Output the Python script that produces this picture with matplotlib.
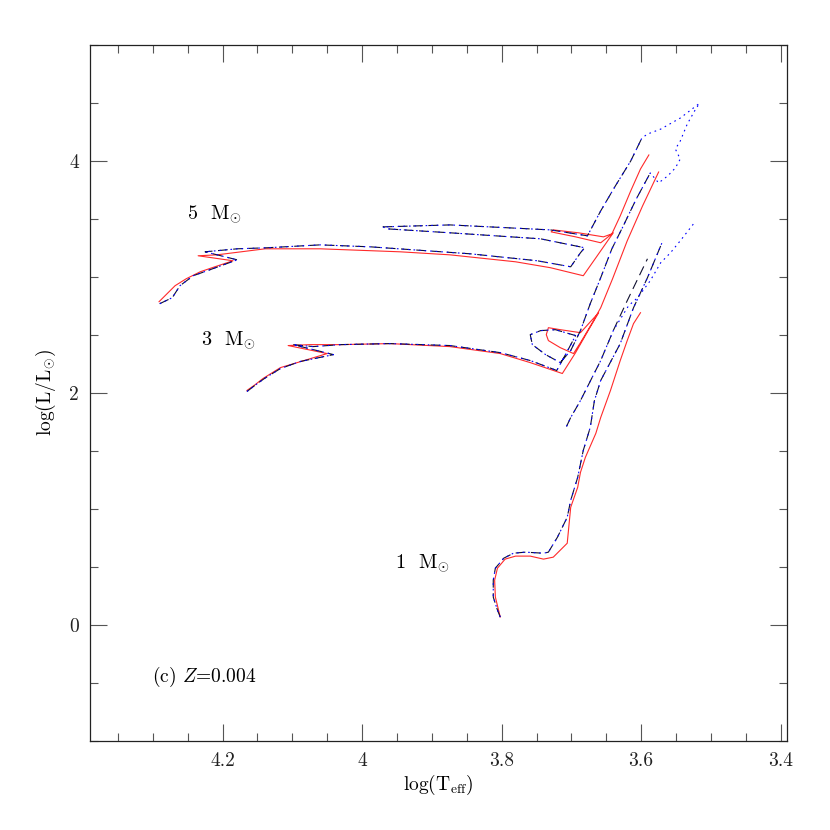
import matplotlib
matplotlib.use('Agg')
import matplotlib.pyplot as plt
from matplotlib.ticker import MultipleLocator, FixedLocator, FixedFormatter

plt.rcParams['font.family'] = 'serif'
plt.rcParams['font.serif'] = ['cmr10', 'DejaVu Serif']
plt.rcParams['mathtext.fontset'] = 'cm'
plt.rcParams['axes.formatter.use_mathtext'] = True
plt.rcParams['axes.unicode_minus'] = False
plt.rcParams['lines.scale_dashes'] = False

# ---- 5 Msun ----
t5_red = [4.291, 4.281, 4.268, 4.252, 4.232, 4.211, 4.185, 4.235, 4.208, 4.139, 4.060,
          3.945, 3.874, 3.780, 3.730, 3.683, 3.664, 3.648, 3.640, 3.658, 3.694, 3.729,
          3.726, 3.690, 3.654, 3.642, 3.630, 3.615, 3.601, 3.589]
l5_red = [2.787, 2.847, 2.925, 2.985, 3.045, 3.088, 3.140, 3.183, 3.191, 3.243, 3.243,
          3.217, 3.191, 3.131, 3.080, 3.011, 3.174, 3.312, 3.381, 3.295, 3.346, 3.389,
          3.406, 3.381, 3.346, 3.372, 3.527, 3.742, 3.931, 4.052]

t5_dash = [4.290, 4.272, 4.261, 4.242, 4.222, 4.179, 4.225, 4.179, 4.136, 4.060, 3.988,
           3.845, 3.749, 3.701, 3.687, 3.681, 3.744, 3.874, 3.964, 3.970, 3.874, 3.730,
           3.677, 3.658, 3.637, 3.615, 3.599]
l5_dash = [2.770, 2.822, 2.925, 3.011, 3.054, 3.148, 3.217, 3.243, 3.252, 3.277, 3.260,
           3.200, 3.140, 3.088, 3.209, 3.252, 3.329, 3.381, 3.415, 3.432, 3.449, 3.406,
           3.355, 3.570, 3.785, 4.000, 4.198]

t5_dot = t5_dash + [3.591, 3.572, 3.544, 3.518]
l5_dot = l5_dash + [4.232, 4.275, 4.370, 4.490]

# ---- 3 Msun ----
t3_red = [4.165, 4.153, 4.142, 4.117, 4.093, 4.050, 4.106, 4.074, 4.031, 3.960, 3.874,
          3.802, 3.759, 3.713, 3.694, 3.676, 3.661, 3.687, 3.716, 3.733, 3.736, 3.733,
          3.716, 3.697, 3.687, 3.670, 3.658, 3.641, 3.620, 3.598, 3.575]
l3_red = [2.022, 2.073, 2.125, 2.219, 2.262, 2.340, 2.409, 2.417, 2.417, 2.426, 2.400,
          2.340, 2.262, 2.168, 2.348, 2.538, 2.692, 2.520, 2.546, 2.563, 2.503, 2.452,
          2.391, 2.340, 2.434, 2.606, 2.735, 2.985, 3.312, 3.613, 3.905]

t3_dash = [4.165, 4.152, 4.140, 4.117, 4.089, 4.041, 4.099, 4.070, 4.031, 3.960, 3.874,
           3.802, 3.759, 3.721, 3.707, 3.694, 3.723, 3.744, 3.759, 3.756, 3.737, 3.716,
           3.701, 3.687, 3.673, 3.658, 3.642, 3.627, 3.607, 3.587]
l3_dash = [2.013, 2.073, 2.125, 2.211, 2.271, 2.331, 2.417, 2.400, 2.417, 2.426, 2.409,
           2.348, 2.280, 2.194, 2.348, 2.495, 2.546, 2.538, 2.503, 2.417, 2.331, 2.262,
           2.366, 2.538, 2.770, 2.994, 3.243, 3.424, 3.673, 3.897]

t3_dot = t3_dash + [3.575, 3.562, 3.551, 3.544, 3.551, 3.544, 3.534, 3.522, 3.516]
l3_dot = l3_dash + [3.811, 3.871, 3.940, 4.017, 4.103, 4.172, 4.318, 4.447, 4.500]

# ---- 1 Msun ----
t1_red = [3.802, 3.809, 3.810, 3.806, 3.795, 3.780, 3.759, 3.740, 3.726, 3.706, 3.701,
          3.691, 3.687, 3.680, 3.665, 3.658, 3.644, 3.630, 3.620, 3.611, 3.601]
l1_red = [0.069, 0.241, 0.387, 0.490, 0.568, 0.594, 0.594, 0.568, 0.585, 0.705, 1.015,
          1.187, 1.316, 1.445, 1.652, 1.789, 2.022, 2.280, 2.452, 2.598, 2.692]

t1_rgb = [3.802, 3.806, 3.812, 3.812, 3.809, 3.797, 3.783, 3.766, 3.740, 3.733, 3.720,
          3.706, 3.701, 3.691, 3.683, 3.673, 3.667, 3.658, 3.630, 3.611, 3.591, 3.569]
l1_rgb = [0.069, 0.129, 0.241, 0.387, 0.490, 0.576, 0.619, 0.628, 0.619, 0.628, 0.757,
          0.929, 1.075, 1.273, 1.505, 1.703, 1.935, 2.108, 2.426, 2.735, 2.994, 3.312]

t1_agb_dash = [3.707, 3.701, 3.687, 3.658, 3.640, 3.620, 3.591]
l1_agb_dash = [1.712, 1.789, 1.935, 2.280, 2.538, 2.796, 3.157]

t1_agb_dot = [3.707, 3.701, 3.687, 3.658, 3.640, 3.618, 3.605, 3.587, 3.572, 3.558,
              3.544, 3.525]
l1_agb_dot = [1.712, 1.789, 1.935, 2.280, 2.538, 2.753, 2.822, 2.968, 3.123, 3.209,
              3.312, 3.458]

red = '#ff2a2a'
blue = '#0000ff'

fig = plt.figure(figsize=(8.3, 8.3), dpi=100)
ax = fig.add_axes([0.1084, 0.1072, 0.8398, 0.8386])

def red_line(t, l):
    ax.plot(t, l, color=red, lw=0.8)

def dash_line(t, l):
    ax.plot(t, l, color='#101030', lw=0.8, dashes=(7, 4))

def dot_line(t, l):
    ax.plot(t, l, color=blue, lw=0.8, dashes=(1.2, 2.8))

for t, l in [(t5_red, l5_red), (t3_red, l3_red), (t1_red, l1_red)]:
    red_line(t, l)
for t, l in [(t5_dash, l5_dash), (t3_dash, l3_dash), (t1_rgb, l1_rgb), (t1_agb_dash, l1_agb_dash)]:
    dash_line(t, l)
for t, l in [(t5_dot, l5_dot), (t3_dot, l3_dot), (t1_rgb, l1_rgb), (t1_agb_dot, l1_agb_dot)]:
    dot_line(t, l)

ax.text(4.211, 3.544, r'5  M$_{\odot}$', fontsize=14.5, ha='center', va='center')
ax.text(4.192, 2.452, r'3  M$_{\odot}$', fontsize=14.5, ha='center', va='center')
ax.text(3.914, 0.533, r'1  M$_{\odot}$', fontsize=14.5, ha='center', va='center')
ax.text(4.301, -0.447, r'(c) $Z$=0.004', fontsize=14, ha='left', va='center')

ax.set_xlim(4.39, 3.391)
ax.set_ylim(-1, 5)

xt = [4.2, 4.0, 3.8, 3.6, 3.4]
ax.xaxis.set_major_locator(FixedLocator(xt))
ax.xaxis.set_major_formatter(FixedFormatter(['4.2', '4', '3.8', '3.6', '3.4']))
ax.xaxis.set_minor_locator(MultipleLocator(0.05))
ax.yaxis.set_major_locator(FixedLocator([0, 2, 4]))
ax.yaxis.set_major_formatter(FixedFormatter(['0', '2', '4']))
ax.yaxis.set_minor_locator(MultipleLocator(0.5))

ax.tick_params(which='both', direction='in', top=True, right=True, color='#555555',
               labelsize=14, pad=8, labelcolor='#222222')
ax.tick_params(which='major', length=12, width=0.8)
ax.tick_params(which='minor', length=6, width=0.8)
for s in ax.spines.values():
    s.set_linewidth(0.9)
    s.set_color('#222222')

ax.set_xlabel(r'log(T$_{\rm eff}$)', fontsize=14, labelpad=2)
ax.set_ylabel(r'log(L/L$_{\odot}$)', fontsize=14, labelpad=8)

fig.savefig('out.png', dpi=100)
